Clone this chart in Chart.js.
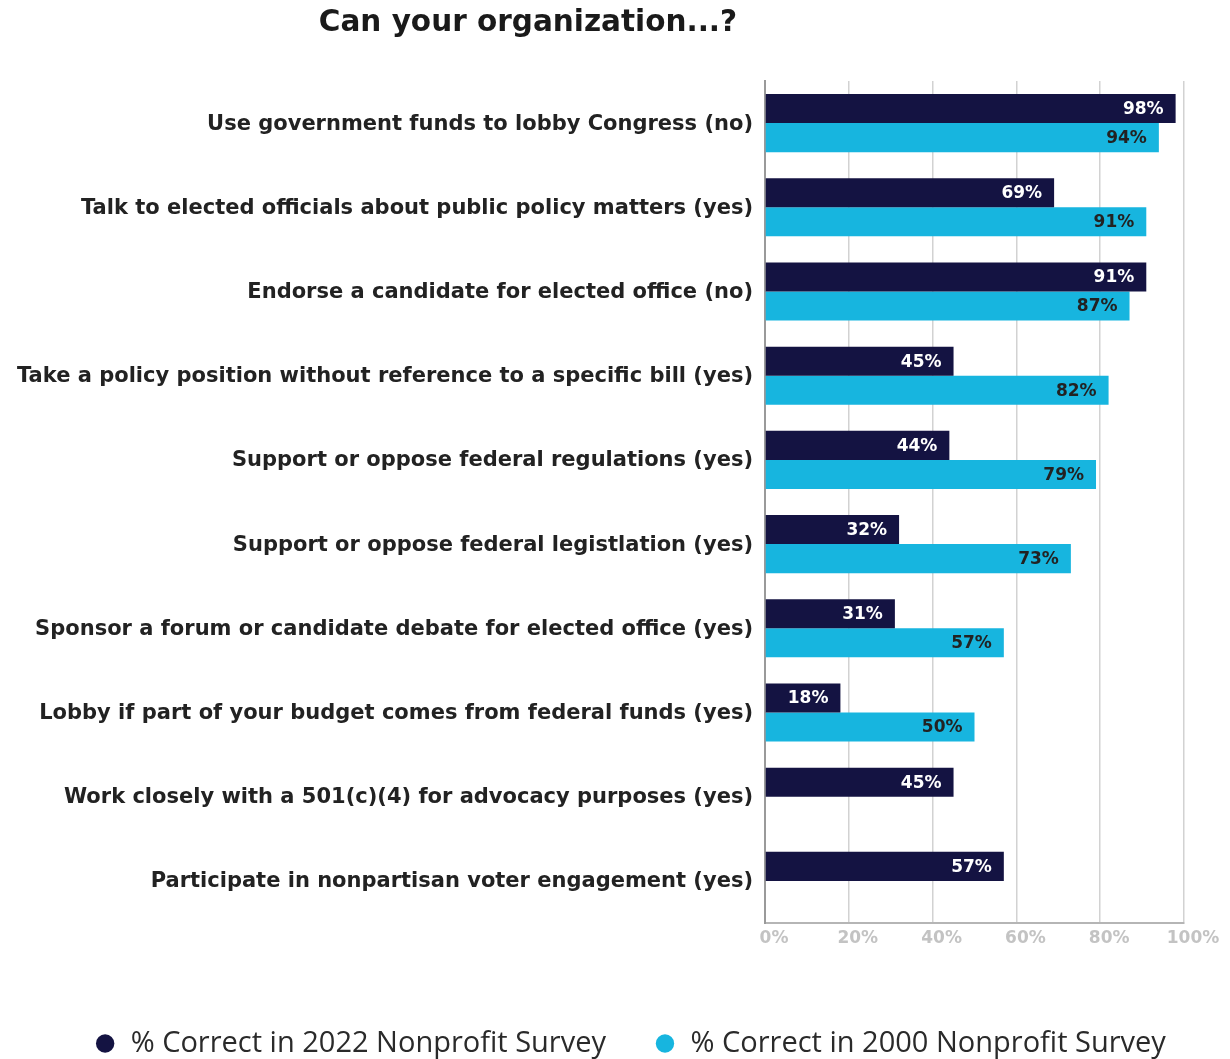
<!DOCTYPE html>
<html>
<head>
<meta charset="utf-8">
<script src="https://cdn.jsdelivr.net/npm/chart.js@4.4.1/dist/chart.umd.min.js"></script>
<style>
  html, body { margin: 0; padding: 0; background: #fff; overflow: hidden; }
  #wrap { width: 1230px; height: 1059px; }
</style>
</head>
<body>
<div id="wrap"><canvas id="barChart" width="1230" height="1059"></canvas></div>
<script>
const categories = [
  'Use government funds to lobby Congress (no)',
  'Talk to elected officials about public policy matters (yes)',
  'Endorse a candidate for elected office (no)',
  'Take a policy position without reference to a specific bill (yes)',
  'Support or oppose federal regulations (yes)',
  'Support or oppose federal legistlation (yes)',
  'Sponsor a forum or candidate debate for elected office (yes)',
  'Lobby if part of your budget comes from federal funds (yes)',
  'Work closely with a 501(c)(4) for advocacy purposes (yes)',
  'Participate in nonpartisan voter engagement (yes)'
]
const survey2022 = [98, 69, 91, 45, 44, 32, 31, 18, 45, 57]
const survey2000 = [94, 91, 87, 82, 79, 73, 57, 50, null, null]
const tickLabels = ['0%', '20%', '40%', '60%', '80%', '100%']
const chartTitle = 'Can your organization...?'

const NAVY = '#141342'
const CYAN = '#17B5DF'

// values printed inside the end of each bar
const barLabels = {
  id: 'barLabels',
  afterDatasetsDraw(chart) {
    const ctx = chart.ctx
    ctx.save()
    ctx.font = 'bold 17px "DejaVu Sans"'
    ctx.textAlign = 'right'
    ctx.textBaseline = 'middle'
    chart.data.datasets.forEach((ds, i) => {
      const meta = chart.getDatasetMeta(i)
      meta.data.forEach((bar, j) => {
        const v = ds.data[j]
        if (v == null) return
        ctx.fillStyle = i === 0 ? '#ffffff' : '#222222'
        ctx.fillText(v + '%', bar.x - 12, bar.y + 1)
      })
    })
    ctx.restore()
  }
}

const titleText = {
  id: 'titleText',
  afterDraw(chart) {
    const ctx = chart.ctx
    ctx.save()
    ctx.font = 'bold 29.5px "DejaVu Sans"'
    ctx.fillStyle = '#1a1a1a'
    ctx.textAlign = 'center'
    ctx.textBaseline = 'middle'
    ctx.fillText(chartTitle, 528, 23)
    ctx.restore()
  }
}

// legend sits centred on the whole page, not just left of the right padding
const legendShift = {
  id: 'legendShift',
  afterLayout(chart) {
    chart.legend.left += 38
    chart.legend.right += 38
  }
}

const ctx = document.getElementById('barChart').getContext('2d')
new Chart(ctx, {
  type: 'bar',
  data: {
    labels: categories,
    datasets: [{
      label: '% Correct in 2022 Nonprofit Survey',
      data: survey2022,
      backgroundColor: NAVY,
      borderWidth: 0
    }, {
      label: '% Correct in 2000 Nonprofit Survey',
      data: survey2000,
      backgroundColor: CYAN,
      borderWidth: 0
    }]
  },
  plugins: [barLabels, titleText, legendShift],
  options: {
    indexAxis: 'y',
    responsive: false,
    animation: false,
    categoryPercentage: 0.69,
    barPercentage: 1.0,
    layout: { padding: { top: 81, right: 46, left: 0, bottom: -9 } },
    plugins: {
      title: { display: false },
      tooltip: { enabled: false },
      legend: {
        position: 'bottom',
        labels: {
          usePointStyle: true,
          pointStyle: 'circle',
          boxWidth: 22,
          boxHeight: 13,
          padding: 48,
          color: '#2a2a2a',
          font: { family: '"Open Sans"', size: 29, weight: 'normal' }
        }
      }
    },
    scales: {
      x: {
        min: 0,
        max: 100,
        grid: { color: '#d2d2d2', lineWidth: 1.5, drawTicks: false },
        border: { color: '#b5b5b5', width: 2 },
        ticks: {
          stepSize: 20,
          padding: 5,
          labelOffset: 9,
          color: '#c3c3c3',
          font: { family: '"DejaVu Sans"', size: 17, weight: 'bold' },
          callback: v => tickLabels[v / 20]
        },
        afterFit: s => { s.height = 58 }
      },
      y: {
        grid: { display: false },
        border: { color: '#9a9a9a', width: 2 },
        ticks: {
          padding: 4,
          labelOffset: 1,
          color: '#222222',
          font: { family: '"DejaVu Sans"', size: 21, weight: 'bold' }
        },
        afterFit: s => { s.width = 765 }
      }
    }
  }
})
</script>
</body>
</html>
